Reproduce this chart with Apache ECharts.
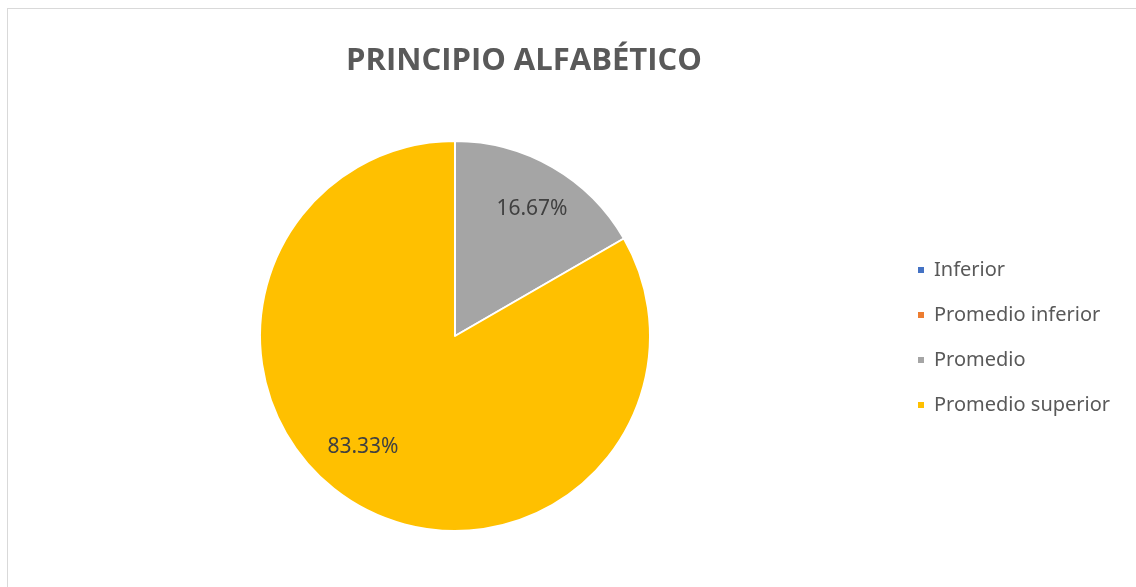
<!DOCTYPE html>
<html>
<head>
<meta charset="utf-8">
<script src="https://cdn.jsdelivr.net/npm/echarts@6/dist/echarts.min.js"></script>
<style>
  html, body { margin: 0; padding: 0; background: #fff; overflow: hidden; }
  #chart { width: 1136px; height: 587px; position: relative; }
  .frame { position: absolute; left: 7px; top: 8px; width: 1200px; height: 700px;
           border-left: 1px solid #d9d9d9; border-top: 1px solid #d9d9d9;
           box-sizing: border-box; pointer-events: none; }
</style>
</head>
<body>
<div id="chart"></div>
<div class="frame"></div>
<script>
// categorias y valores (conteo de alumnos)
const categories = ['Inferior', 'Promedio inferior', 'Promedio', 'Promedio superior'];
const values = [0, 0, 1, 5];
const colors = ['#4472c4', '#ed7d31', '#a5a5a5', '#ffc000'];

const pieData = categories.map((name, i) => ({ name: name, value: values[i] }));

const myChart = echarts.init(document.getElementById('chart'));
const option = {
  backgroundColor: 'rgba(0,0,0,0)',
  color: colors,
  animation: false,
  title: {
    text: 'PRINCIPIO ALFABÉTICO',
    left: 341,
    top: 41,
    textStyle: { fontFamily: 'Open Sans', fontSize: 31, fontWeight: 'bold', color: '#595959' }
  },
  legend: {
    orient: 'vertical',
    left: 916,
    top: 259,
    padding: 0,
    itemWidth: 8,
    itemHeight: 8,
    itemGap: 23,
    icon: 'rect',
    data: categories,
    textStyle: { fontFamily: 'Noto Sans', fontSize: 20, color: '#595959', lineHeight: 22, padding: [0, 0, 0, 4] }
  },
  series: [{
    name: 'Principio alfabético',
    type: 'pie',
    center: [455, 336],
    radius: [0, 195],
    startAngle: 90,
    clockwise: true,
    silent: true,
    label: { show: false },
    labelLine: { show: false },
    itemStyle: { borderColor: '#fff', borderWidth: 2 },
    data: pieData
  }, {
    // serie invisible solo para ubicar las etiquetas hacia el borde
    name: 'etiquetas',
    type: 'pie',
    center: [455, 336],
    radius: [0, 290],
    startAngle: 90,
    clockwise: true,
    silent: true,
    itemStyle: { color: 'rgba(0,0,0,0)' },
    labelLine: { show: false },
    label: {
      show: true,
      position: 'inside',
      fontFamily: 'Noto Sans',
      fontSize: 21,
      color: '#404040',
      formatter: p => p.value === 0 ? '' : p.percent.toFixed(2) + '%'
    },
    labelLayout: p => p.dataIndex === 3 ? { dx: -18, dy: -17 } : { dx: 3, dy: 1 },
    data: pieData
  }]
};
myChart.setOption(option);
</script>
</body>
</html>
